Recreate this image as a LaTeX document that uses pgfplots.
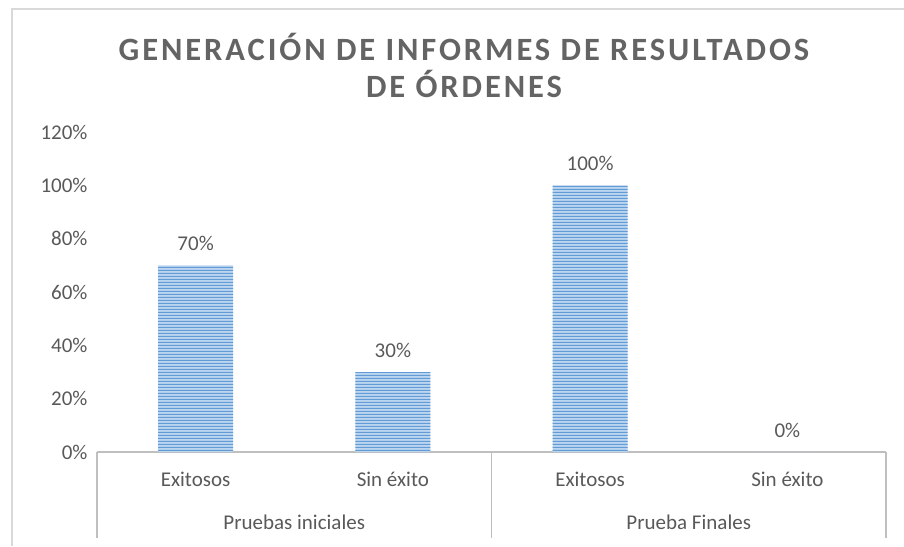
\documentclass[border=0pt]{standalone}
\usepackage{pgfplots}
\pgfplotsset{compat=1.18}
\usepackage{fontspec}
\setmainfont{Carlito}
\newfontfamily\titlefont[LetterSpace=9]{Carlito}
\usetikzlibrary{patterns}
\pgfdeclarepatternformonly{hstripes}{\pgfpoint{0pt}{0pt}}{\pgfpoint{1000pt}{3pt}}{\pgfpoint{1000pt}{3pt}}{%
  \pgfpathrectangle{\pgfpoint{0pt}{0pt}}{\pgfpoint{1000pt}{1.5pt}}\pgfusepath{fill}}
\definecolor{txt}{RGB}{89,89,89}
\definecolor{ttl}{RGB}{100,100,100}
\definecolor{ax}{RGB}{191,191,191}
\definecolor{frame}{RGB}{217,217,217}
\definecolor{barfill}{RGB}{189,214,240}
\definecolor{barline}{RGB}{98,155,214}
\begin{document}
\begin{tikzpicture}[x=1pt,y=1pt]
\useasboundingbox (0,0) rectangle (904,546);
\draw[frame, line width=1.5pt] (12,0) -- (12,537) -- (906,537);
\node[font=\titlefont\bfseries\fontsize{32.5}{37}\selectfont, text=ttl] at (464,499) {GENERACIÓN DE INFORMES DE RESULTADOS};
\node[font=\titlefont\bfseries\fontsize{32.5}{37}\selectfont, text=ttl] at (464,462) {DE ÓRDENES};
\begin{axis}[
  at={(97pt,94pt)}, anchor=south west,
  scale only axis, width=789pt, height=320pt,
  xmin=-0.5, xmax=3.5, ymin=0, ymax=120,
  clip=false,
  /pgf/number format/assume math mode=true,
  axis x line*=bottom, axis y line*=left,
  y axis line style={draw=none},
  x axis line style={ax, line width=1.3pt, -},
  major tick length=0,
  xtick={0,1,2,3},
  xticklabels={Exitosos, Sin éxito, Exitosos, Sin éxito},
  ytick={0,20,...,120},
  yticklabel={\pgfmathprintnumber{\tick}\%},
  tick label style={font=\fontsize{21}{25}\selectfont, text=txt},
  xticklabel style={anchor=center, yshift=-27pt},
  yticklabel style={anchor=east, xshift=-6pt},
  ]
\addplot[ybar, bar width=75pt, fill=barfill, draw=none,
  postaction={pattern=hstripes, pattern color=barline},
  nodes near coords={\pgfmathprintnumber{\pgfplotspointmeta}\%},
  nodes near coords style={font=\fontsize{21}{25}\selectfont, text=txt, anchor=center, yshift=22pt}]
  coordinates {(0,70) (1,30) (2,100) (3,0)};
\draw[ax, line width=1.3pt] (axis cs:-0.5,0) -- ++(0pt,-86pt);
\draw[ax, line width=1.3pt] (axis cs:1.5,0) -- ++(0pt,-86pt);
\draw[ax, line width=1.3pt] (axis cs:3.5,0) -- ++(0pt,-86pt);
\path (axis cs:0.5,0) ++(0pt,-70pt) node[font=\fontsize{21}{25}\selectfont, text=txt] {Pruebas iniciales};
\path (axis cs:2.5,0) ++(0pt,-70pt) node[font=\fontsize{21}{25}\selectfont, text=txt] {Prueba Finales};
\end{axis}
\end{tikzpicture}
\end{document}
